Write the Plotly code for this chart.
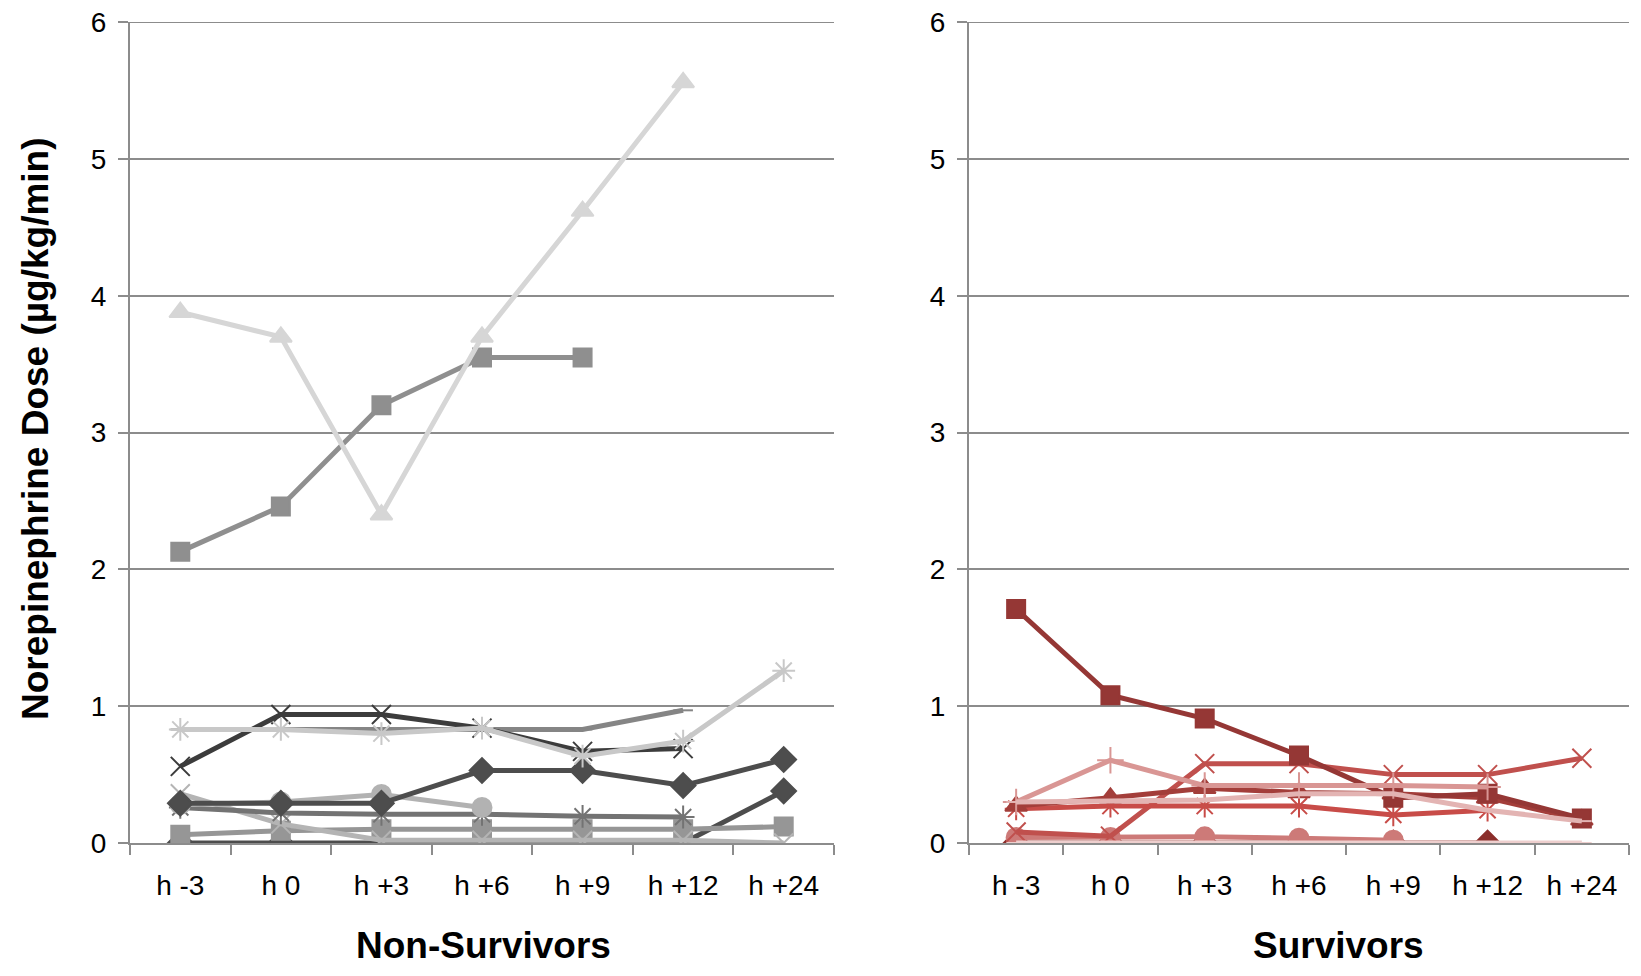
import plotly.graph_objects as go

categories = ["h -3", "h 0", "h +3", "h +6", "h +9", "h +12", "h +24"]

# Non-Survivors
ns_triangle = [3.88, 3.70, 2.40, 3.70, 4.62, 5.56, None]
ns_square_big = [2.13, 2.46, 3.20, 3.55, 3.55, None, None]
ns_dash = [0.83, 0.83, 0.83, 0.83, 0.83, 0.97, None]
ns_x_dark = [0.56, 0.94, 0.94, 0.84, 0.67, 0.69, None]
ns_asterisk = [0.83, 0.83, 0.80, 0.84, 0.635, 0.745, 1.26]
ns_diamond_a = [0.29, 0.29, 0.29, 0.53, 0.53, 0.42, 0.61]
ns_circle = [0.28, 0.30, 0.355, 0.26, None, None, None]
ns_ast_mid = [0.26, 0.22, 0.21, 0.21, 0.195, 0.19, None]
ns_x_light = [0.36, 0.14, 0.02, 0.02, 0.02, 0.02, 0.0]
ns_square_small = [0.06, 0.09, 0.10, 0.10, 0.10, 0.10, 0.12]
ns_diamond_b = [0.0, 0.0, 0.0, 0.0, 0.0, 0.0, 0.38]

# Survivors
s_square = [1.71, 1.08, 0.91, 0.64, 0.33, 0.36, 0.18]
s_x = [0.08, 0.05, 0.58, 0.58, 0.50, 0.50, 0.62]
s_triangle = [0.27, 0.33, 0.40, 0.37, 0.36, 0.33, 0.17]
s_asterisk = [0.25, 0.27, 0.27, 0.27, 0.205, 0.24, None]
s_plus = [0.30, 0.605, 0.42, 0.42, 0.42, 0.41, None]
s_dash = [0.30, 0.31, 0.315, 0.36, 0.36, 0.24, 0.16]
s_circle = [0.04, 0.04, 0.045, 0.035, 0.02, None, None]
s_diamond = [0.0, 0.0, 0.0, 0.0, 0.0, 0.0, None]
s_zero = [0.0, 0.0, 0.0, 0.0, 0.0, 0.0, 0.0]

y_ticks = [0, 1, 2, 3, 4, 5, 6]

left_series = [
    (ns_diamond_b, "#4d4d4d", "diamond", 19),
    (ns_square_small, "#969696", "square", 18),
    (ns_x_light, "#b4b4b4", "x-thin-open", 19),
    (ns_ast_mid, "#737373", "asterisk-open", 19),
    (ns_circle, "#b2b2b2", "circle", 19),
    (ns_diamond_a, "#4d4d4d", "diamond", 19),
    (ns_dash, "#858585", "line-ew-open", 14),
    (ns_x_dark, "#3c3c3c", "x-thin-open", 19),
    (ns_asterisk, "#c8c8c8", "asterisk-open", 19),
    (ns_square_big, "#8f8f8f", "square", 18),
    (ns_triangle, "#d6d6d6", "triangle-up", 19),
]

right_series = [
    (s_diamond, "#8b2e2b", "diamond", 19),
    (s_circle, "#cd7a78", "circle", 19),
    (s_x, "#c0504d", "x-thin-open", 19),
    (s_asterisk, "#c84c48", "asterisk-open", 19),
    (s_triangle, "#a33e3a", "triangle-up", 19),
    (s_square, "#953735", "square", 18),
    (s_plus, "#d99694", "cross-thin-open", 19),
    (s_dash, "#e3b4b3", "line-ew-open", 14),
    (s_zero, "#eecfce", "line-ew-open", 14),
]

fig = go.Figure()

def add(series, xa, ya):
    for vals, col, sym, sz in series:
        fig.add_trace(go.Scatter(
            x=categories, y=vals, mode="lines+markers",
            xaxis=xa, yaxis=ya,
            line=dict(color=col, width=5),
            marker=dict(symbol=sym, size=sz, color=col,
                        line=dict(color=col, width=2)),
            connectgaps=False, showlegend=False, hoverinfo="skip"))

add(left_series, "x", "y")
add(right_series, "x2", "y2")

# page has an 8px body margin; figure coordinates = page coordinates - 8
W, H = 1625, 960
ML, MR, MT, MB = 122, 4, 14, 125
PW = W - ML - MR
PH = H - MT - MB
axis_col = "#8c8c8c"
tick_font = dict(family="Liberation Sans, Arial, sans-serif", size=28, color="#000000")
y_max = y_ticks[-1]

xcommon = dict(type="category", categoryorder="array", categoryarray=categories,
               range=[-0.5, 6.5], showline=True, linecolor=axis_col, linewidth=2,
               ticks="outside", tickson="boundaries", ticklen=10, tickcolor=axis_col,
               tickwidth=2, showgrid=False, zeroline=False, tickfont=tick_font,
               ticklabelstandoff=16, automargin=False)
ycommon = dict(range=[0, y_max + 0.002], tickvals=y_ticks, showline=True, linecolor=axis_col,
               linewidth=2, ticks="outside", ticklen=10, tickcolor=axis_col, tickwidth=2,
               showgrid=True, gridcolor=axis_col, gridwidth=1.5, zeroline=False,
               tickfont=tick_font, ticklabelstandoff=6, automargin=False,
               ticklabeloverflow="allow")

title_font = dict(family="Liberation Sans, Arial, sans-serif", size=37, color="#000000")

def px_x(v):
    return (v - ML) / PW

def px_y(v):
    return (H - MB - v) / PH

fig.update_layout(
    width=W, height=H,
    margin=dict(l=ML, r=MR, t=MT, b=MB, autoexpand=False),
    paper_bgcolor="white", plot_bgcolor="white",
    xaxis=dict(domain=[0, (826 - ML) / PW], anchor="y", **xcommon),
    yaxis=dict(domain=[0, 1], anchor="x", **ycommon),
    xaxis2=dict(domain=[(961 - ML) / PW, 1.0], anchor="y2", **xcommon),
    yaxis2=dict(domain=[0, 1], anchor="x2", **ycommon),
    annotations=[
        dict(text="<b>Non-Survivors</b>", x=px_x(475.5), y=px_y(937), xref="paper", yref="paper",
             showarrow=False, xanchor="center", yanchor="middle", font=title_font),
        dict(text="<b>Survivors</b>", x=px_x(1330.6), y=px_y(937), xref="paper", yref="paper",
             showarrow=False, xanchor="center", yanchor="middle", font=title_font),
        dict(text="<b>Norepinephrine Dose (µg/kg/min)</b>", x=px_x(27), y=px_y(421),
             xref="paper", yref="paper", showarrow=False, textangle=-90,
             xanchor="center", yanchor="middle", font=title_font),
    ],
)

# top gridline (at the maximum tick) for each panel
for xr, yr in (("x domain", "y"), ("x2 domain", "y2")):
    fig.add_shape(type="line", xref=xr, yref=yr, x0=0, x1=1, y0=y_max, y1=y_max,
                  line=dict(color=axis_col, width=1.5), layer="below")

fig.write_html("out.html")
